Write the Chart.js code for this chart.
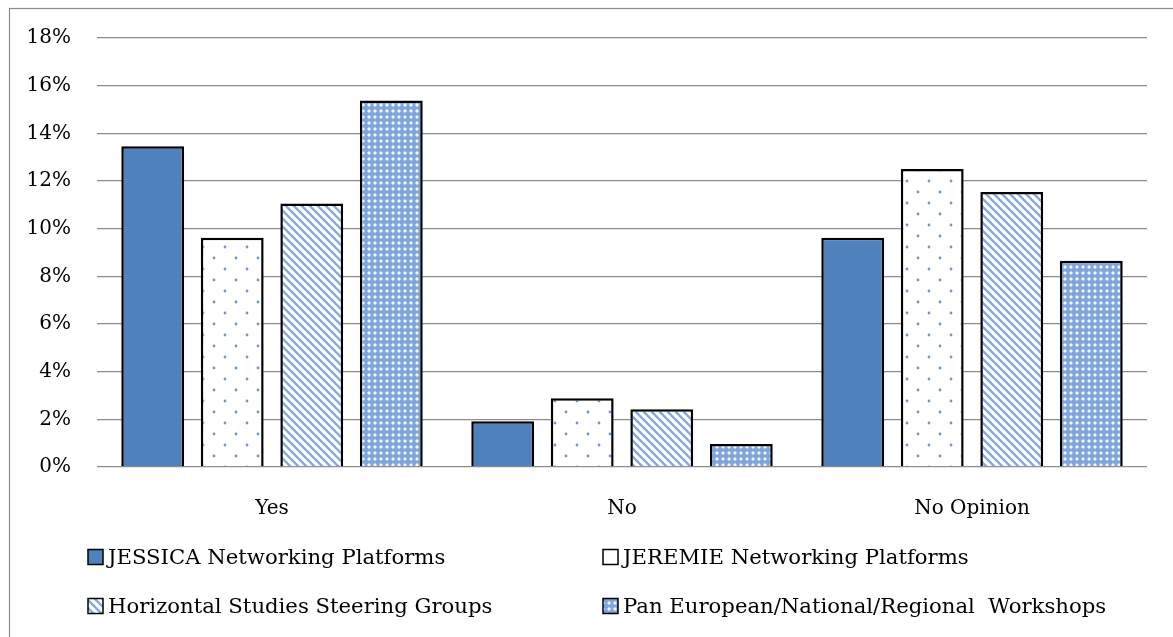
<!DOCTYPE html>
<html>
<head>
<meta charset="utf-8">
<script src="https://cdn.jsdelivr.net/npm/chart.js@4.4.0/dist/chart.umd.min.js"></script>
<style>
  html, body { margin: 0; padding: 0; background: #fff; }
  #wrap { width: 1173px; height: 637px; }
</style>
</head>
<body>
<div id="wrap"><canvas id="chart" width="1173" height="637"></canvas></div>
<script>
// survey answers, share of respondents in %
const categories = ['Yes', 'No', 'No Opinion'];
const seriesNames = [
  'JESSICA Networking Platforms',
  'JEREMIE Networking Platforms',
  'Horizontal Studies Steering Groups',
  'Pan European/National/Regional  Workshops'
];
const jessicaValues = [13.46, 1.92, 9.62];
const jeremieValues = [9.62, 2.88, 12.5];
const horizontalValues = [11.06, 2.42, 11.54];
const workshopValues = [15.38, 0.96, 8.65];
const yTicks = [0, 2, 4, 6, 8, 10, 12, 14, 16, 18];

const FONT = '"DejaVu Serif", "Liberation Serif", serif';

// --- fill patterns -------------------------------------------------------
function makeTile(w, h, paint) {
  const c = document.createElement('canvas');
  c.width = w; c.height = h;
  const g = c.getContext('2d');
  paint(g, w, h);
  return document.createElement('canvas').getContext('2d').createPattern(c, 'repeat');
}

const solidBlue = '#4f81bd';

const dotPattern = makeTile(22, 22, (g, w, h) => {
  g.fillStyle = '#ffffff';
  g.fillRect(0, 0, w, h);
  g.fillStyle = '#6a98d6';
  [[5, 5], [16, 16]].forEach(([x, y]) => {
    g.beginPath();
    g.arc(x, y, 1.4, 0, Math.PI * 2);
    g.fill();
  });
});

const diagPattern = makeTile(8, 8, (g, w, h) => {
  g.fillStyle = '#ffffff';
  g.fillRect(0, 0, w, h);
  g.strokeStyle = '#86aade';
  g.lineWidth = 2.4;
  for (let k = -1; k <= 1; k++) {
    g.beginPath();
    g.moveTo(k * w - 1, -1);
    g.lineTo(k * w + w + 1, h + 1);
    g.stroke();
  }
});

const lattice = makeTile(6, 6, (g, w, h) => {
  g.fillStyle = '#7fa5db';
  g.fillRect(0, 0, w, h);
  g.fillStyle = '#f4f8fd';
  g.beginPath();
  g.moveTo(3, 1);
  g.lineTo(5, 3);
  g.lineTo(3, 5);
  g.lineTo(1, 3);
  g.closePath();
  g.fill();
});

const fills = [solidBlue, dotPattern, diagPattern, lattice];
const values = [jessicaValues, jeremieValues, horizontalValues, workshopValues];

// --- plugins -------------------------------------------------------------
const frame = {
  id: 'frame',
  beforeDraw(chart) {
    const ctx = chart.ctx;
    ctx.save();
    ctx.fillStyle = '#ffffff';
    ctx.fillRect(0, 0, chart.width, chart.height);
    ctx.strokeStyle = '#8c8c8c';
    ctx.lineWidth = 1.2;
    ctx.strokeRect(9.5, 8.5, chart.width + 20, chart.height + 20);
    ctx.restore();
  }
};

// two-column legend below the plot
const gridLegend = {
  id: 'gridLegend',
  afterDraw(chart) {
    const ctx = chart.ctx;
    const colX = [88, 603];
    const rowY = [557, 606];
    const box = 15;
    ctx.save();
    ctx.font = '21.2px ' + FONT;
    ctx.textBaseline = 'middle';
    chart.data.datasets.forEach((ds, i) => {
      const x = colX[i % 2];
      const y = rowY[Math.floor(i / 2)];
      ctx.fillStyle = ds.backgroundColor;
      ctx.fillRect(x, y - box / 2, box, box);
      ctx.strokeStyle = '#000';
      ctx.lineWidth = 1.5;
      ctx.strokeRect(x, y - box / 2, box, box);
      ctx.fillStyle = '#000';
      ctx.fillText(ds.label, x + box + 5, y + 1);
    });
    ctx.restore();
  }
};

new Chart(document.getElementById('chart'), {
  type: 'bar',
  data: {
    labels: categories,
    datasets: seriesNames.map((name, i) => ({
      label: name,
      data: values[i],
      backgroundColor: fills[i],
      borderColor: '#000000',
      borderWidth: 2.5,
      categoryPercentage: 0.909,
      barPercentage: 0.79
    }))
  },
  options: {
    responsive: false,
    animation: false,
    layout: { padding: { left: 20, right: 26, top: 37, bottom: 110 } },
    plugins: {
      legend: { display: false },
      tooltip: { enabled: false }
    },
    scales: {
      x: {
        grid: { display: false },
        border: { display: false },
        ticks: { color: '#000', padding: 22, font: { family: FONT, size: 20 } },
        afterFit(scale) { scale.height = 60; }
      },
      y: {
        min: 0,
        max: 18,
        afterBuildTicks(scale) { scale.ticks = yTicks.map(v => ({ value: v })); },
        grid: { color: '#8c8c8c', lineWidth: 1.3, drawTicks: false },
        border: { display: false },
        ticks: {
          color: '#000',
          padding: 26,
          font: { family: FONT, size: 20 },
          callback: v => v + '%'
        },
        afterFit(scale) { scale.width = 77; }
      }
    }
  },
  plugins: [frame, gridLegend]
});
</script>
</body>
</html>
